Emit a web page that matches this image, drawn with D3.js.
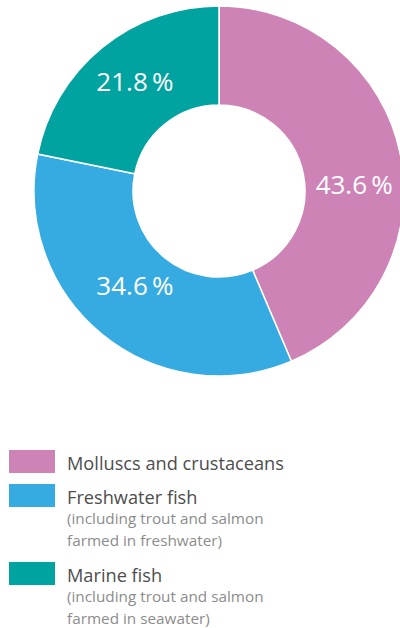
<!DOCTYPE html>
<html>
<head>
<meta charset="utf-8">
<script src="https://cdn.jsdelivr.net/npm/d3@7"></script>
<style>
  html, body { margin: 0; padding: 0; background: #fff; }
  svg { display: block; font-family: "Open Sans", "Noto Sans", sans-serif; }
</style>
</head>
<body>
<svg id="chart" width="400" height="628"></svg>
<script>
// Aquaculture production by species group (share of total, %)
const categories = ["Molluscs and crustaceans", "Freshwater fish", "Marine fish"];
const shares = [43.6, 34.6, 21.8];
const subLabels = [
  [],
  ["(including trout and salmon", "farmed in freshwater)"],
  ["(including trout and salmon", "farmed in seawater)"]
];
const colors = ["#ce83b7", "#36abe2", "#00a39f"];
// small vertical nudges for the in-ring value labels
const labelNudge = [21, -11, -4];

const svg = d3.select("#chart");
const cx = 219, cy = 191, outerR = 185, innerR = 86;

const pie = d3.pie().sort(null).value(d => d)(shares);
const arc = d3.arc().innerRadius(innerR).outerRadius(outerR);
const color = d3.scaleOrdinal().domain(categories).range(colors);

const g = svg.append("g").attr("transform", `translate(${cx},${cy})`);

g.selectAll("path.slice")
  .data(pie)
  .join("path")
  .attr("class", "slice")
  .attr("d", arc)
  .attr("fill", (d, i) => color(categories[i]))
  .attr("stroke", "#fff")
  .attr("stroke-width", 1.5);

const labelArc = d3.arc().innerRadius(innerR).outerRadius(outerR + 1);
g.selectAll("text.val")
  .data(pie)
  .join("text")
  .attr("class", "val")
  .attr("x", d => labelArc.centroid(d)[0] + 2)
  .attr("y", (d, i) => labelArc.centroid(d)[1] + labelNudge[i])
  .attr("dy", "0.36em")
  .attr("text-anchor", "middle")
  .attr("fill", "#fff")
  .attr("font-size", 26)
  .text(d => d3.format(".1f")(d.data) + "\u2009%");

// Legend
const legendTop = [450, 484, 562];
const legend = svg.append("g");
categories.forEach((c, i) => {
  const row = legend.append("g").attr("transform", `translate(0,${legendTop[i]})`);
  row.append("rect")
    .attr("x", 9).attr("y", 0)
    .attr("width", 46).attr("height", 23)
    .attr("fill", color(c));
  row.append("text")
    .attr("x", 67).attr("y", 20)
    .attr("fill", "#4d4d4d")
    .attr("font-size", 18.2)
    .text(c);
  subLabels[i].forEach((s, j) => {
    row.append("text")
      .attr("x", 67).attr("y", 40 + j * 22)
      .attr("fill", "#8c8c8c")
      .attr("font-size", 15.3)
      .text(s);
  });
});
</script>
</body>
</html>
